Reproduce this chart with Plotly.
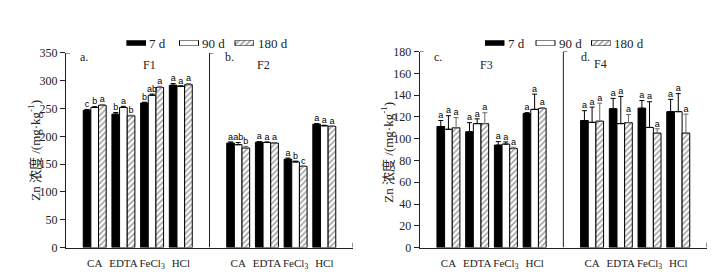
import plotly.graph_objects as go

W, H = 722, 276

# ---------------- data ----------------
groups = ["CA", "EDTA", "FeCl<sub>3</sub>", "HCl"]
periods = ["7 d", "90 d", "180 d"]

# panel a (F1) and b (F2), left chart; values per period over groups
f1_7d = [247, 240, 260, 292]
f1_90d = [252, 252, 274, 290]
f1_180d = [256, 237, 288, 293]
f1_err_7d = [1.5, 3, 1.5, 3]
f1_err_90d = [1.5, 2, 2, 1]
f1_err_180d = [1.5, 1, 2, 2]
f1_let_7d = ["c", "b", "b", "a"]
f1_let_90d = ["b", "a", "ab", "a"]
f1_let_180d = ["a", "b", "a", "a"]

f2_7d = [188, 189.5, 159, 222]
f2_90d = [185, 189, 154, 219]
f2_180d = [179, 188, 146, 218]
f2_err_7d = [2, 1, 2, 1]
f2_err_90d = [4, 1, 1.5, 1]
f2_err_180d = [3, 1, 1, 1]
f2_let_7d = ["a", "a", "a", "a"]
f2_let_90d = ["ab", "a", "b", "a"]
f2_let_180d = ["b", "a", "c", "a"]

# panel c (F3) and d (F4), right chart
f3_7d = [111.2, 106.3, 94.1, 123.1]
f3_90d = [108.6, 113.8, 95.0, 126.9]
f3_180d = [110.0, 113.8, 90.9, 127.8]
f3_err_7d = [5.5, 8.4, 3.2, 0.8]
f3_err_90d = [12.5, 4.4, 2.0, 14.0]
f3_err_180d = [9.3, 10.0, 1.2, 0.6]

f4_7d = [116.7, 127.5, 128.0, 124.8]
f4_90d = [115.0, 113.8, 110.3, 124.8]
f4_180d = [116.1, 114.7, 105.1, 105.1]
f4_err_7d = [9.0, 9.5, 7.0, 11.3]
f4_err_90d = [14.0, 25.0, 23.6, 16.6]
f4_err_180d = [16.5, 7.5, 4.0, 17.4]

f3_let = ["a", "a", "a", "a"]
f4_let = ["a", "a", "a", "a"]

left_vals = [f1_7d + f2_7d, f1_90d + f2_90d, f1_180d + f2_180d]
left_errs = [f1_err_7d + f2_err_7d, f1_err_90d + f2_err_90d, f1_err_180d + f2_err_180d]
left_lets = [f1_let_7d + f2_let_7d, f1_let_90d + f2_let_90d, f1_let_180d + f2_let_180d]
right_vals = [f3_7d + f4_7d, f3_90d + f4_90d, f3_180d + f4_180d]
right_errs = [f3_err_7d + f4_err_7d, f3_err_90d + f4_err_90d, f3_err_180d + f4_err_180d]
right_lets = [f3_let + f4_let] * 3

panel_labels_left = ["a.", "b."]
panel_titles_left = ["F1", "F2"]
panel_labels_right = ["c.", "d."]
panel_titles_right = ["F3", "F4"]
y_title = "Zn 浓度 /(mg·kg<sup>-1</sup>)"

# ---------------- style ----------------
SERIF = "Liberation Serif, Times New Roman, Noto Sans CJK SC, serif"
SANS = "Liberation Sans, Arial, sans-serif"
group_pos = [1, 2, 3, 4, 6, 7, 8, 9]
BW = 0.8 / 3
offsets = [-BW, 0, BW]

styles = [
    dict(color="black", line=dict(color="black", width=1)),
    dict(color="white", line=dict(color="black", width=1)),
    dict(color="white", line=dict(color="black", width=1),
         pattern=dict(shape="/", fgcolor="#444", bgcolor="white", size=4, solidity=0.4)),
]
err_colors = ["black", "black", "#666"]


def px(x):
    return x / W


def py(y):
    return 1 - y / H


fig = go.Figure()


def add_chart(vals, errs, lets, xa, ya):
    for i in range(3):
        xs = [g + offsets[i] for g in group_pos]
        fig.add_trace(go.Bar(
            x=xs, y=vals[i], width=BW, marker=styles[i], name=periods[i],
            showlegend=False, xaxis=xa, yaxis=ya,
            error_y=dict(type="data", symmetric=False, array=errs[i],
                         arrayminus=[0] * len(errs[i]), color=err_colors[i],
                         thickness=1, width=2.5),
        ))
        fig.add_trace(go.Scatter(
            x=xs, y=[v + e for v, e in zip(vals[i], errs[i])], text=lets[i],
            mode="text", textposition="top center",
            textfont=dict(family=SANS, size=9, color="black"),
            showlegend=False, xaxis=xa, yaxis=ya, hoverinfo="skip",
        ))


add_chart(left_vals, left_errs, left_lets, "x", "y")
add_chart(right_vals, right_errs, right_lets, "x2", "y2")

# legend swatches (drawn on small hidden axes)
legend_cfg = [
    ("3", [118.5, 171.5, 227.0], 26.5, 32.5),
    ("4", [477.0, 528.0, 583.5], 26.5, 32.5),
]
SW = 19
for suf, lefts, yt, yb in legend_cfg:
    for i in range(3):
        fig.add_trace(go.Bar(
            x=[lefts[i] + SW / 2], y=[1], base=0, width=SW, marker=styles[i],
            showlegend=False, xaxis="x" + suf, yaxis="y" + suf, hoverinfo="skip",
        ))
        fig.add_annotation(
            x=px(lefts[i] + SW + 1.5), y=py((yt + yb) / 2 + 0.3), xref="paper", yref="paper",
            text=periods[i], showarrow=False, xanchor="left", yanchor="middle",
            font=dict(family=SERIF, size=13, color="#222"))

axis_common = dict(showgrid=False, zeroline=False, showline=True, linecolor="#222",
                   linewidth=1)
tick_font = dict(family=SERIF, size=12, color="#222")
cat_font = dict(family=SERIF, size=11, color="#222")

xdom_l = [px(58), px(345)]
xdom_r = [px(411.7), px(699)]
ydom_l = [py(245), py(40)]
ydom_r = [py(245), py(38.5)]

fig.update_layout(
    width=W, height=H, margin=dict(l=0, r=0, t=0, b=0),
    paper_bgcolor="white", plot_bgcolor="white", barmode="overlay",
    showlegend=False,
    xaxis=dict(domain=xdom_l, range=[0, 10], anchor="y", tickvals=group_pos,
               ticktext=groups * 2, ticks="", tickangle=0, tickfont=cat_font,
               ticklabelstandoff=5, **axis_common),
    yaxis=dict(domain=ydom_l, range=[0, 350], anchor="x", dtick=50, ticks="outside",
               ticklen=5, tickcolor="#222", tickfont=tick_font, **axis_common),
    xaxis2=dict(domain=xdom_r, range=[0, 10], anchor="y2", tickvals=group_pos,
                ticktext=groups * 2, ticks="", tickangle=0, tickfont=cat_font,
                ticklabelstandoff=5, **axis_common),
    yaxis2=dict(domain=ydom_r, range=[0, 180], anchor="x2", dtick=20, ticks="outside",
                ticklen=5, tickcolor="#222", tickfont=tick_font, **axis_common),
    xaxis3=dict(domain=[px(118.5), px(246)], range=[118.5, 246], visible=False, fixedrange=True),
    yaxis3=dict(domain=[py(32.5), py(26.5)], range=[0, 1], visible=False, fixedrange=True, anchor="x3"),
    xaxis4=dict(domain=[px(477), px(602.5)], range=[477, 602.5], visible=False, fixedrange=True),
    yaxis4=dict(domain=[py(32.5), py(26.5)], range=[0, 1], visible=False, fixedrange=True, anchor="x4"),
)

# dividers, end ticks and top caps
charts = [("x", "y", 350, xdom_l, ydom_l), ("x2", "y2", 180, xdom_r, ydom_r)]
for xa, ya, ymax, xd, yd in charts:
    upx = (xd[1] - xd[0]) * W / 10.0        # px per x unit
    upy = (yd[1] - yd[0]) * H / ymax         # px per y unit
    line = dict(color="#222", width=1)
    fig.add_shape(type="line", xref=xa, yref=ya, x0=5, x1=5, y0=0, y1=ymax, line=line)
    fig.add_shape(type="line", xref=xa, yref=ya, x0=5, x1=5 + 4 / upx, y0=ymax, y1=ymax, line=line)
    fig.add_shape(type="line", xref=xa, yref=ya, x0=0, x1=4 / upx, y0=ymax, y1=ymax, line=line)
    fig.add_shape(type="line", xref=xa, yref=ya, x0=10, x1=10, y0=0, y1=5 / upy, line=line)

# panel labels
for labels, titles, lpos, tpos in [
    (panel_labels_left, panel_titles_left, [(69.5, 44.5), (215, 44.5)], [(141.7, 52.7), (255.5, 52.5)]),
    (panel_labels_right, panel_titles_right, [(424, 44), (570.7, 44)], [(478, 53), (592, 52)]),
]:
    for k in range(2):
        fig.add_annotation(x=px(lpos[k][0]), y=py(lpos[k][1]), xref="paper", yref="paper",
                           text=labels[k], showarrow=False, xanchor="left", yanchor="middle",
                           font=dict(family=SERIF, size=12, color="#222"))
        fig.add_annotation(x=px(tpos[k][0]), y=py(tpos[k][1]), xref="paper", yref="paper",
                           text=titles[k], showarrow=False, xanchor="center", yanchor="middle",
                           font=dict(family=SERIF, size=12, color="#222"))

# y-axis titles
for cx, cy in [(26, 143), (379, 145)]:
    fig.add_annotation(x=px(cx), y=py(cy), xref="paper", yref="paper", text=y_title,
                       textangle=-90, showarrow=False, xanchor="center", yanchor="middle",
                       font=dict(family=SERIF, size=13, color="#222"))

fig.write_html("out.html")
